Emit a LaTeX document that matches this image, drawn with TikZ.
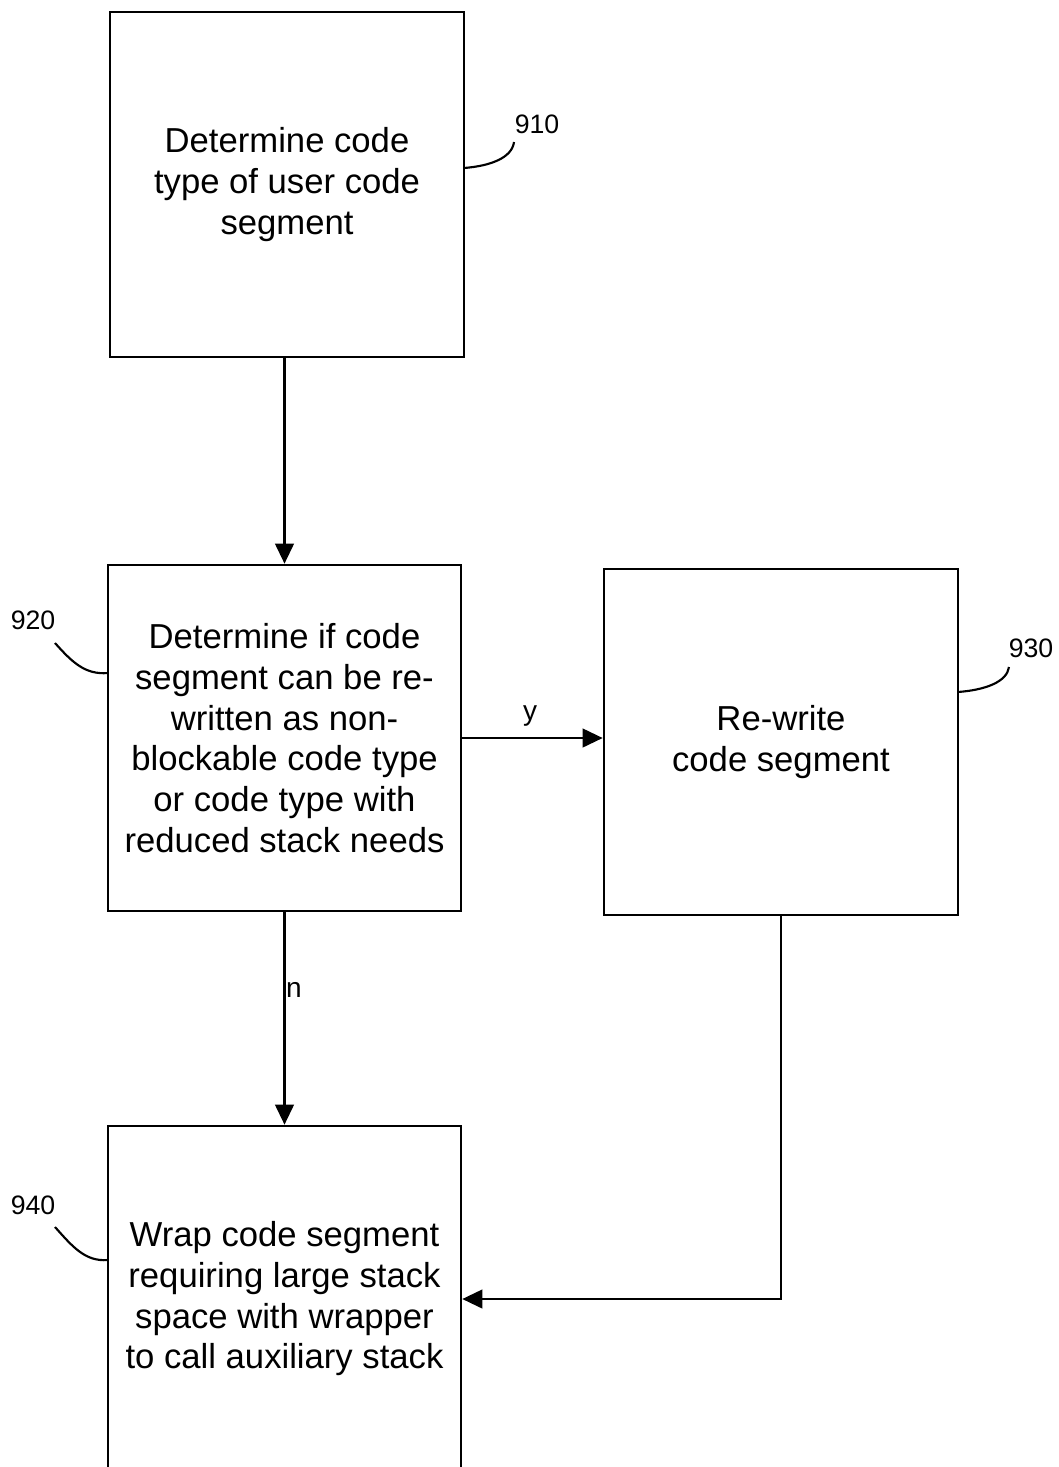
\documentclass[tikz,border=0pt]{standalone}
\usepackage{fontspec}
\setmainfont{Liberation Sans}
\usetikzlibrary{arrows.meta}
\begin{document}
\begin{tikzpicture}[x=0.75pt,y=-0.75pt,
  box/.style={draw,line width=2pt,inner sep=0pt,align=center,
    font=\fontsize{26}{30.5}\selectfont},
  arr/.style={line width=1.6pt,-{Triangle[length=15pt,width=14pt]}},
  lead/.style={line width=1.6pt},
  ref/.style={font=\fontsize{20}{22}\selectfont,inner sep=0pt},
  lab/.style={font=\fontsize{21}{23}\selectfont,inner sep=0pt}]
\clip (0,0) rectangle (1058,1467);
\fill[white] (0,0) rectangle (1058,1467);
\node[box,minimum width=265.5pt,minimum height=258.75pt] (b910) at (287,184.5)
  {Determine code\\type of user code\\segment};
\node[box,minimum width=264.75pt,minimum height=259.5pt] (b920) at (284.5,738)
  {Determine if code\\segment can be re-\\written as non-\\blockable code type\\or code type with\\reduced stack needs};
\node[box,minimum width=265.5pt,minimum height=259.5pt] (b930) at (781,742)
  {Re-write\\code segment};
\node[box,minimum width=264.75pt,minimum height=259.5pt] (b940) at (284.5,1299)
  {Wrap code segment\\requiring large stack\\space with wrapper\\to call auxiliary stack};
% connectors
\draw[arr] (b910.south -| b920.north) -- (b920.north);
\draw[arr] (b920.east) -- (b920.east -| b930.west);
\node[lab] (ly) at (530,716) {y};
\draw[arr] (b920.south) -- (b940.north);
\node[lab] (ln) at (294,990) {n};
\draw[arr] (b930.south) |- (b940.east);
% reference numerals
\node[ref] (l910) at (537,124) {910};
\node[ref] (l920) at (33,620) {920};
\node[ref] (l930) at (1031,648) {930};
\node[ref] (l940) at (33,1205) {940};
\coordinate (s910) at (464,168);
\coordinate (e910) at (514,142);
\coordinate (s920) at (55,643);
\coordinate (e920) at (108,673);
\coordinate (s930) at (958,692);
\coordinate (e930) at (1009,667);
\coordinate (s940) at (55,1227);
\coordinate (e940) at (108,1260);
\draw[lead] (s910) .. controls (490,166) and (512,158) .. (e910);
\draw[lead] (s920) .. controls (72,662) and (85,675) .. (e920);
\draw[lead] (s930) .. controls (985,690) and (1007,682) .. (e930);
\draw[lead] (s940) .. controls (72,1246) and (85,1262) .. (e940);
\end{tikzpicture}
\end{document}
